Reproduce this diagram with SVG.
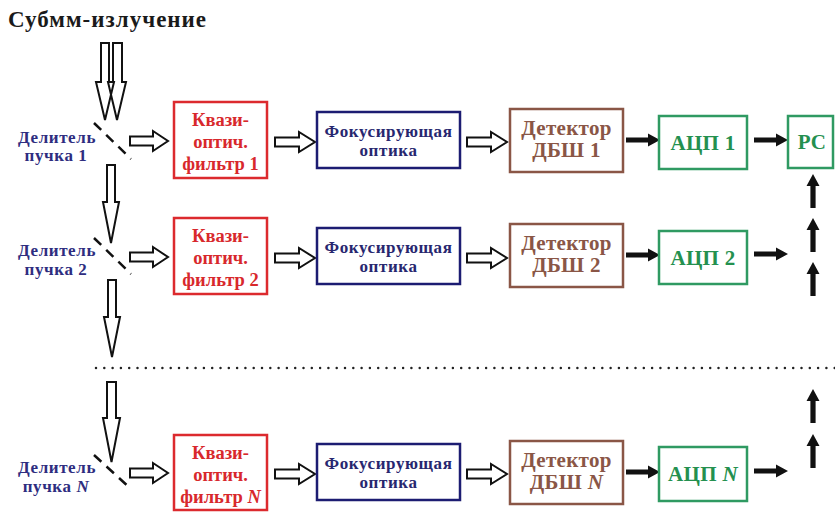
<svg xmlns="http://www.w3.org/2000/svg" width="835" height="513" viewBox="0 0 835 513">
<style>
text{font-family:"Liberation Serif","Times New Roman",serif;font-weight:bold;text-anchor:middle}
.title{font-size:23px;fill:#1a1a1a;text-anchor:start;letter-spacing:1px}
.lbl{font-size:17px;fill:#2e2d80;letter-spacing:0.6px}
.red rect{fill:#fff;stroke:#dc2a2e;stroke-width:2.5}
.red text{font-size:18.5px;fill:#d8282c}
.blue rect{fill:#fff;stroke:#1c1c72;stroke-width:2.5}
.blue text{font-size:17px;fill:#27276f;letter-spacing:0.6px}
.brown rect{fill:#fff;stroke:#8a5646;stroke-width:2.5}
.brown text{font-size:21px;fill:#8a5646;letter-spacing:0.3px}
.green rect{fill:#fff;stroke:#2f9a62;stroke-width:2.5}
.green text{font-size:21px;fill:#24904f;letter-spacing:0.3px}
.hollow{fill:#fff;stroke:#111;stroke-width:2;stroke-linejoin:miter}
.open{fill:none;stroke:#111;stroke-width:2}
.split{stroke:#111;stroke-width:2.5;stroke-dasharray:10 7;fill:none}
.solid{fill:#111}
.dots{stroke:#222;stroke-width:2.5;stroke-linecap:round;stroke-dasharray:0 8.3;fill:none}
</style>
<defs>
<path id="ha" d="M0,-4.5 H23 V-10 L38,0 L23,10 V4.5 H0 Z"/>
<path id="ha40" d="M0,-4.5 H24 V-10 L40,0 L24,10 V4.5 H0 Z"/>
<path id="ba" d="M0,-2.6 H22 V-6.5 L34,0 L22,6.5 V2.6 H0 Z"/>
</defs>

<text class="title" x="8" y="27">Субмм-излучение</text>

<g id="connectors">
  <path class="open" d="M101,43 H109 V82 H114 L105,120 L96,82 H101 Z"/>
  <path class="open" d="M113,43 H122 V82 H126 L117,120 L108,82 H113 Z"/>
  <line class="split" x1="94" y1="123" x2="131" y2="159"/>
  <line class="split" x1="94" y1="238" x2="131" y2="274"/>
  <line class="split" x1="94" y1="455" x2="131" y2="489"/>
  <path class="hollow" d="M107,165 H115 V202 H119 L111,243 L103,202 H107 Z"/>
  <path class="hollow" d="M108,280 H116 V317 H120 L112,357 L104,317 H108 Z"/>
  <path class="hollow" d="M107,382 H116 V418 H120 L111.5,462 L103,418 H107 Z"/>
  <use href="#ha" class="hollow" x="130" y="141"/>
  <use href="#ha40" class="hollow" x="275" y="142"/>
  <use href="#ha40" class="hollow" x="467" y="142"/>
  <use href="#ha" class="hollow" x="130" y="257"/>
  <use href="#ha40" class="hollow" x="275" y="258"/>
  <use href="#ha40" class="hollow" x="467" y="258"/>
  <use href="#ha" class="hollow" x="130" y="473"/>
  <use href="#ha40" class="hollow" x="275" y="474"/>
  <use href="#ha40" class="hollow" x="467" y="474"/>
  <use href="#ba" class="solid" x="626" y="140"/>
  <use href="#ba" class="solid" x="754" y="140"/>
  <use href="#ba" class="solid" x="626" y="255"/>
  <use href="#ba" class="solid" x="754" y="254"/>
  <use href="#ba" class="solid" x="626" y="472"/>
  <use href="#ba" class="solid" x="754" y="471"/>
  <use href="#ba" class="solid" transform="translate(813,208) rotate(-90)"/>
  <use href="#ba" class="solid" transform="translate(813,252) rotate(-90)"/>
  <use href="#ba" class="solid" transform="translate(813,296) rotate(-90)"/>
  <use href="#ba" class="solid" transform="translate(813,423) rotate(-90)"/>
  <use href="#ba" class="solid" transform="translate(813,468) rotate(-90)"/>
  <line class="dots" x1="96" y1="368" x2="835" y2="368"/>
</g>

<g id="split1"><text class="lbl" x="57" y="143">Делитель</text><text class="lbl" x="56" y="161">пучка 1</text></g>
<g id="split2"><text class="lbl" x="57" y="256">Делитель</text><text class="lbl" x="56" y="275">пучка 2</text></g>
<g id="splitN"><text class="lbl" x="57" y="473">Делитель</text><text class="lbl" x="56" y="492">пучка <tspan font-style="italic">N</tspan></text></g>

<g id="filter1" class="red"><rect x="174" y="102" width="93" height="76"/>
<text x="220.5" y="126">Квази-</text><text x="220.5" y="148">оптич.</text><text x="220.5" y="170">фильтр 1</text></g>
<g id="filter2" class="red"><rect x="174" y="218" width="93" height="76"/>
<text x="220.5" y="242">Квази-</text><text x="220.5" y="264">оптич.</text><text x="220.5" y="286">фильтр 2</text></g>
<g id="filterN" class="red"><rect x="174" y="435" width="93" height="75"/>
<text x="220.5" y="459">Квази-</text><text x="220.5" y="481">оптич.</text><text x="220.5" y="503">фильтр <tspan font-style="italic">N</tspan></text></g>

<g id="optics1" class="blue"><rect x="317" y="112" width="143" height="56"/>
<text x="388.5" y="137">Фокусирующая</text><text x="388.5" y="156">оптика</text></g>
<g id="optics2" class="blue"><rect x="317" y="228" width="143" height="56"/>
<text x="388.5" y="253">Фокусирующая</text><text x="388.5" y="272">оптика</text></g>
<g id="opticsN" class="blue"><rect x="317" y="444" width="143" height="56"/>
<text x="388.5" y="469">Фокусирующая</text><text x="388.5" y="488">оптика</text></g>

<g id="det1" class="brown"><rect x="510" y="109" width="113" height="63"/>
<text x="566.5" y="135">Детектор</text><text x="566.5" y="157">ДБШ 1</text></g>
<g id="det2" class="brown"><rect x="510" y="224" width="113" height="63"/>
<text x="566.5" y="250">Детектор</text><text x="566.5" y="272">ДБШ 2</text></g>
<g id="detN" class="brown"><rect x="510" y="441" width="113" height="63"/>
<text x="566.5" y="467">Детектор</text><text x="566.5" y="489">ДБШ <tspan font-style="italic">N</tspan></text></g>

<g id="adc1" class="green"><rect x="659" y="116" width="88" height="53"/><text x="703" y="150">АЦП 1</text></g>
<g id="adc2" class="green"><rect x="659" y="231" width="88" height="53"/><text x="703" y="265">АЦП 2</text></g>
<g id="adcN" class="green"><rect x="659" y="447" width="88" height="54"/><text x="703" y="481">АЦП <tspan font-style="italic">N</tspan></text></g>

<g id="pc" class="green"><rect x="788" y="116" width="45" height="52"/><text x="812" y="149">PC</text></g>
</svg>
